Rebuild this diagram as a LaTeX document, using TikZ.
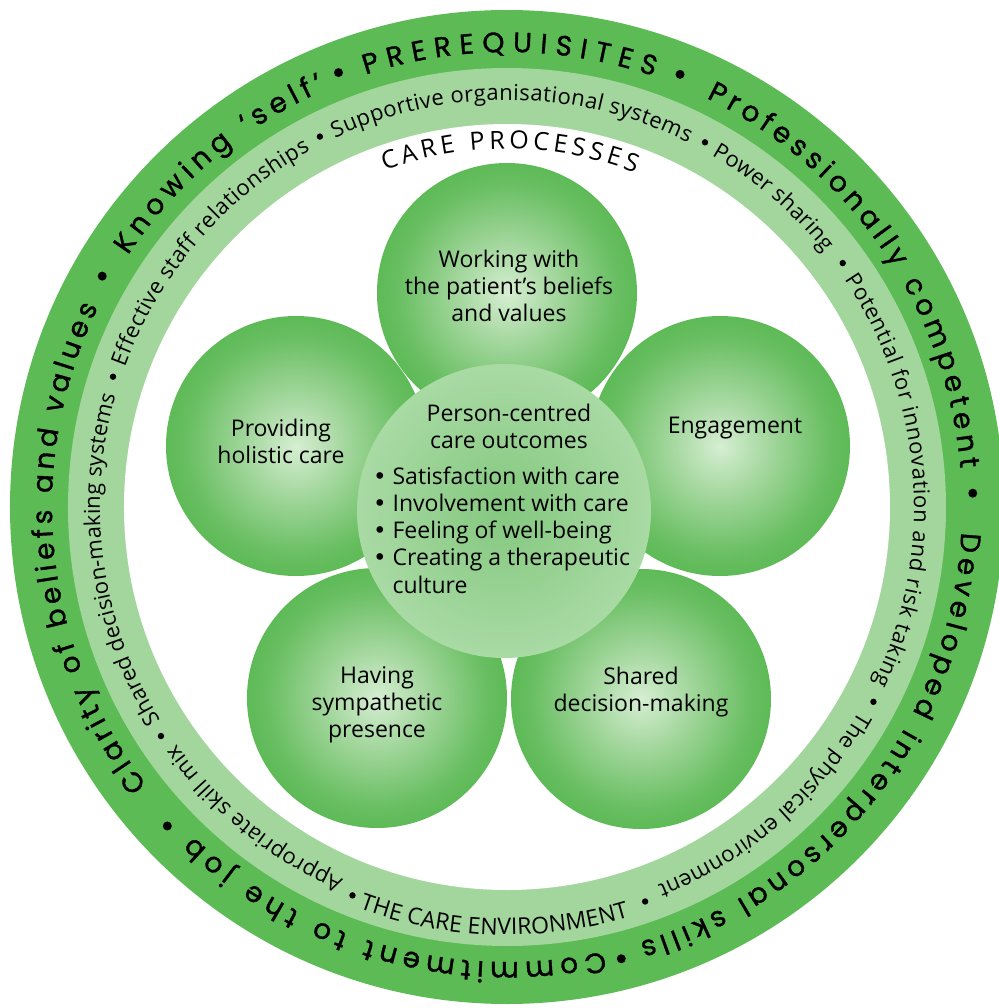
\documentclass[tikz,border=0pt]{standalone}
\usepackage{fontspec}
\setmainfont{Open Sans}
\newfontfamily\ringfont{Poppins}[FakeBold=1.2]
\newfontfamily\bulletfont{DejaVu Sans}
\usetikzlibrary{decorations.text}

\definecolor{ringdark}{HTML}{5DBB56}
\definecolor{ringlight}{HTML}{A3D69C}
\definecolor{petalin}{HTML}{D6EED2}
\definecolor{petalmid}{HTML}{A6D8A0}
\definecolor{petalout}{HTML}{5EBA57}
\definecolor{hubin}{HTML}{84C87F}
\definecolor{hubout}{HTML}{A9DAA4}

\pgfdeclareradialshading{petalshade}{\pgfpoint{0bp}{0bp}}{color(0bp)=(petalin); color(9bp)=(petalmid); color(21bp)=(petalout!85!petalmid); color(25bp)=(petalout); color(50bp)=(petalout)}
\pgfdeclareradialshading{hubshade}{\pgfpoint{0bp}{0bp}}{color(0bp)=(hubin); color(25bp)=(hubout); color(50bp)=(hubout)}

\newcommand{\outerfont}{\ringfont\fontsize{14}{16}\selectfont}
\newcommand{\midfont}{\fontsize{11}{13}\selectfont}
\newcommand{\capsfont}{\fontsize{11.5}{13}\selectfont}
\newcommand{\procfont}{\fontsize{12.5}{14}\selectfont}
\newcommand{\blt}{{\bulletfont •}}

% text on an arc of the rings: radius, from, to, font, text
\newcommand{\ringtext}[5]{%
  \path[decorate, decoration={text along path, text align={fit to path}, text={|#4|#5}}]
    (#2:#1) arc[start angle=#2, end angle=#3, radius=#1];}

\begin{document}
\begin{tikzpicture}[x=0.5pt, y=0.5pt,
  petal/.style={circle, minimum size=130pt, inner sep=0pt, shading=petalshade},
  hub/.style={circle, minimum size=147pt, inner sep=0pt, shading=hubshade},
  ptext/.style={font=\fontsize{11.5}{13.6}\selectfont, align=center}]
\useasboundingbox (-507,-501) rectangle (491,507);

% rings
\fill[ringdark] (0,0) circle[radius=497];
\fill[ringlight] (0,0) circle[radius=439];
\fill[white] (0,0) circle[radius=383];

% prerequisites
\ringtext{455}{108.1}{71.2}{\outerfont}{PREREQUISITES}
\ringtext{455}{64}{4.9}{\outerfont}{Professionally competent}
\ringtext{455}{-3.2}{-73}{\outerfont}{Developed interpersonal skills}
\ringtext{455}{-77.7}{-133.6}{\outerfont}{Commitment to the job}
\ringtext{455}{217.7}{154}{\outerfont}{Clarity of beliefs and values}
\ringtext{455}{146.4}{113.6}{\outerfont}{Knowing ‘self’}
\fill (68.2:466) circle[radius=4.5];
\fill (1.7:466) circle[radius=4.5];
\fill (-75.8:466) circle[radius=4.5];
\fill (-136.8:466) circle[radius=4.5];
\fill (150.3:466) circle[radius=4.5];
\fill (111.2:466) circle[radius=4.5];

% care environment
\ringtext{407}{115}{63.6}{\midfont}{Supportive organisational systems}
\ringtext{407}{59.8}{38.7}{\midfont}{Power sharing}
\ringtext{407}{34}{-25.7}{\midfont}{Potential for innovation and risk taking}
\ringtext{407}{-30.2}{-68.3}{\midfont}{The physical environment}
\ringtext{428}{-110.2}{-73.4}{\capsfont}{THE CARE ENVIRONMENT}
\ringtext{407}{-113.7}{-144.4}{\midfont}{Appropriate skill mix}
\ringtext{407}{-148.4}{-195.9}{\midfont}{Shared decision-making systems}
\ringtext{407}{159.9}{118.9}{\midfont}{Effective staff relationships}
\fill (61.5:415) circle[radius=3.2];
\fill (36:415) circle[radius=3.2];
\fill (-28:415) circle[radius=3.2];
\fill (-70.7:418) circle[radius=3.2];
\fill (-111.7:418) circle[radius=3.2];
\fill (-146.5:415) circle[radius=3.2];
\fill (161.7:415) circle[radius=3.2];
\fill (116.8:415) circle[radius=3.2];

\ringtext{358}{110}{69}{\procfont}{CARE PROCESSES}

% care processes
\node[petal] (beliefs) at (0,214) {};
\node[petal] (holistic) at (-211,61) {};
\node[petal] (engage) at (213,61) {};
\node[petal] (presence) at (-130,-191) {};
\node[petal] (decision) at (134,-192) {};
\node[hub] (outcomes) at (-3,-4) {};

\node[ptext] (beliefstxt) at (2,221) {Working with\\the patient’s beliefs\\and values};
\node[ptext] (holistictxt) at (-226,66) {Providing\\holistic care};
\node[ptext] (engagetxt) at (228,79) {Engagement};
\node[ptext] (presencetxt) at (-130,-198) {Having\\sympathetic\\presence};
\node[ptext] (decisiontxt) at (134,-185) {Shared\\decision-making};
\node[ptext] (outhead) at (2,81) {Person-centred\\care outcomes};
\node[ptext, align=left, anchor=west] (outlist) at (-141,-23) {\blt\ Satisfaction with care\\\blt\ Involvement with care\\\blt\ Feeling of well-being\\\blt\ Creating a therapeutic\\\hphantom{\blt\ }culture};
\end{tikzpicture}
\end{document}
